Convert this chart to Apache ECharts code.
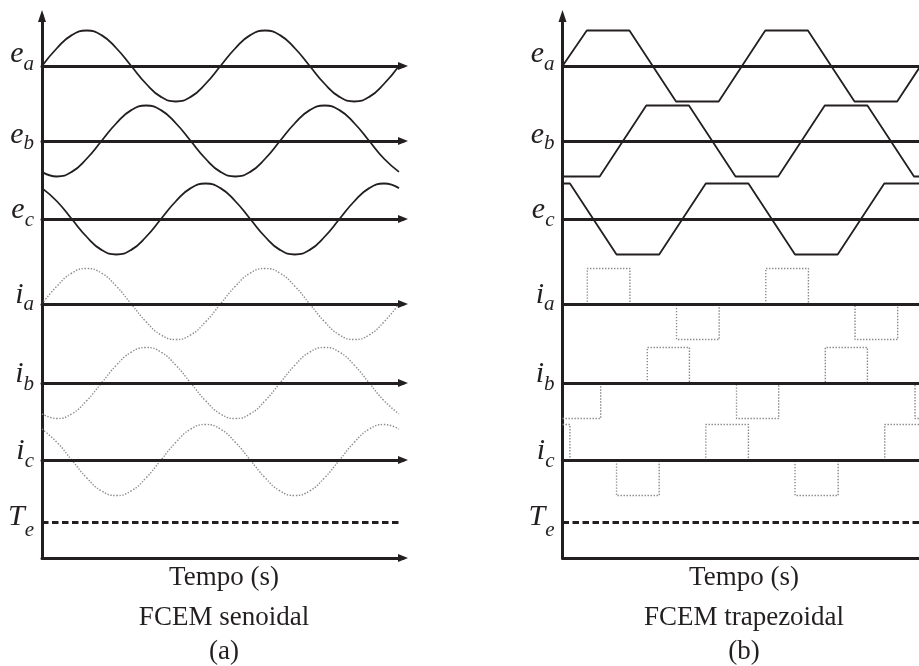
<!DOCTYPE html>
<html>
<head>
<meta charset="utf-8">
<script src="https://cdn.jsdelivr.net/npm/echarts@6/dist/echarts.min.js"></script>
<style>
  html, body { margin: 0; padding: 0; background: #ffffff; }
  #chart { width: 919px; height: 666px; }
</style>
</head>
<body>
<div id="chart"></div>
<script>
// ---- Sinusoidal back-EMF and phase currents, sampled every 30 electrical degrees ----
const sinAngles = [0, 30, 60, 90, 120, 150, 180, 210, 240, 270, 300, 330, 360,
                   390, 420, 450, 480, 510, 540, 570, 600, 630, 660, 690, 720];
const eaSin = [0, 0.5, 0.87, 1, 0.87, 0.5, 0, -0.5, -0.87, -1, -0.87, -0.5, 0,
               0.5, 0.87, 1, 0.87, 0.5, 0, -0.5, -0.87, -1, -0.87, -0.5, 0];
const ebSin = [-0.87, -1, -0.87, -0.5, 0, 0.5, 0.87, 1, 0.87, 0.5, 0, -0.5, -0.87,
               -1, -0.87, -0.5, 0, 0.5, 0.87, 1, 0.87, 0.5, 0, -0.5, -0.87];
const ecSin = [0.87, 0.5, 0, -0.5, -0.87, -1, -0.87, -0.5, 0, 0.5, 0.87, 1, 0.87,
               0.5, 0, -0.5, -0.87, -1, -0.87, -0.5, 0, 0.5, 0.87, 1, 0.87];
const iaSin = [0, 0.5, 0.87, 1, 0.87, 0.5, 0, -0.5, -0.87, -1, -0.87, -0.5, 0,
               0.5, 0.87, 1, 0.87, 0.5, 0, -0.5, -0.87, -1, -0.87, -0.5, 0];
const ibSin = [-0.87, -1, -0.87, -0.5, 0, 0.5, 0.87, 1, 0.87, 0.5, 0, -0.5, -0.87,
               -1, -0.87, -0.5, 0, 0.5, 0.87, 1, 0.87, 0.5, 0, -0.5, -0.87];
const icSin = [0.87, 0.5, 0, -0.5, -0.87, -1, -0.87, -0.5, 0, 0.5, 0.87, 1, 0.87,
               0.5, 0, -0.5, -0.87, -1, -0.87, -0.5, 0, 0.5, 0.87, 1, 0.87];

// ---- Trapezoidal back-EMF: corner points [angle, per-unit value] ----
const eaTrap = [[0, 0], [49, 1], [135, 1], [229, -1], [315, -1], [409, 1], [495, 1], [589, -1], [675, -1], [722, 0]];
const ebTrap = [[0, -1], [75, -1], [169, 1], [255, 1], [349, -1], [435, -1], [529, 1], [615, 1], [709, -1], [722, -1]];
const ecTrap = [[0, 1], [15, 1], [109, -1], [195, -1], [289, 1], [375, 1], [469, -1], [555, -1], [649, 1], [722, 1]];

// ---- Quasi-square phase currents: level switches [angle, new level] ----
const iaBlock = [[0, 0], [50, 1], [136, 0], [230, -1], [316, 0], [410, 1], [496, 0], [590, -1], [676, 0], [722, 0]];
const ibBlock = [[0, -1], [77, 0], [171, 1], [256, 0], [351, -1], [436, 0], [530, 1], [615, 0], [711, -1], [722, -1]];
const icBlock = [[0, 1], [15, 0], [109, -1], [195, 0], [289, 1], [375, 0], [469, -1], [556, 0], [650, 1], [722, 1]];

// ---- Electromagnetic torque (constant, per unit) ----
const teSin = [[0, 1], [720, 1]];
const teTrap = [[0, 1], [722, 1]];

// ---- Text ----
const rowSymbols = [['e', 'a'], ['e', 'b'], ['e', 'c'], ['i', 'a'], ['i', 'b'], ['i', 'c']];
const torqueSymbol = ['T', 'e'];
const timeAxisName = 'Tempo (s)';
const captions = [['FCEM senoidal', '(a)'], ['FCEM trapezoidal', '(b)']];

// ---- Layout & style ----
const ink = '#231f20';
const dotGray = '#8a8a8a';
const serif = '"Liberation Serif", "Times New Roman", serif';
const pxPerDeg = 0.4958;        // horizontal scale shared by both panels
const unitPx = 35.5;            // pixels per unit of amplitude
const frameTop = 16;
const timeAxisY = 558;
const rowBaselines = [66, 141, 219, 304, 383, 460];
// glyph baseline offsets (main letter, subscript) relative to each row axis
const labelOffsets = [[-2, 6], [4, 10], [1, 9], [1, 8], [1, 9], [1, 9]];
const torqueOffsets = [5, 15];
const mainSize = 30, subSize = 21;

// the right panel runs past the page edge, so its arrowheads are cut off
const panels = [
  { left: 42, width: 361, center: 224, kind: 'sin' },
  { left: 562.5, width: 385, center: 744, kind: 'trap' }
];

function pad(shift) {
  return shift < 0 ? [0, 0, -2 * shift, 0] : [2 * shift, 0, 0, 0];
}
function symbolName(sym, offs) {
  return {
    text: '{m|' + sym[0] + '}{s|' + sym[1] + '}',
    rich: {
      m: { fontFamily: serif, fontStyle: 'italic', fontSize: mainSize, color: ink,
           padding: pad(offs[0] - 0.3375 * mainSize) },
      s: { fontFamily: serif, fontStyle: 'italic', fontSize: subSize, color: ink,
           padding: pad(offs[1] - 0.3375 * subSize) }
    }
  };
}

const grids = [], xAxes = [], yAxes = [], series = [], graphics = [];
const hiddenAxisParts = {
  axisTick: { show: false }, axisLabel: { show: false }, splitLine: { show: false }
};

function addGrid(grid, xa, ya) {
  grids.push(Object.assign({ containLabel: false, outerBoundsMode: 'none' }, grid));
  const idx = grids.length - 1;
  const xMax = grid.width / pxPerDeg;
  xAxes.push(Object.assign({ gridIndex: idx, type: 'value', min: 0, max: xMax }, hiddenAxisParts, xa));
  yAxes.push(Object.assign({ gridIndex: idx, type: 'value' }, hiddenAxisParts, ya));
  return idx;
}

const sinSets = [eaSin, ebSin, ecSin, iaSin, ibSin, icSin];
const trapSets = [eaTrap, ebTrap, ecTrap, iaBlock, ibBlock, icBlock];
const arrowLine = {
  show: true, onZero: true, symbol: ['none', 'triangle'], symbolSize: [8, 10],
  lineStyle: { color: ink, width: 3 }
};

panels.forEach(function (p, pi) {
  // vertical axis
  addGrid(
    { left: p.left, top: frameTop, width: p.width, height: timeAxisY - frameTop },
    { axisLine: { show: false } },
    { min: 0, max: 1,
      axisLine: { show: true, symbol: ['none', 'triangle'], symbolSize: [8, 12],
                  lineStyle: { color: ink, width: 3 } } }
  );

  // one strip per phase quantity
  rowBaselines.forEach(function (y, ri) {
    const nm = symbolName(rowSymbols[ri], labelOffsets[ri]);
    const gi = addGrid(
      { left: p.left, top: y - 1.25 * unitPx, width: p.width, height: 2.5 * unitPx },
      { z: 5, axisLine: arrowLine },
      { min: -1.25, max: 1.25, axisLine: { show: false },
        name: nm.text, nameLocation: 'middle', nameRotate: 0, nameGap: 8,
        nameTextStyle: { rich: nm.rich } }
    );
    const isCurrent = ri >= 3;
    let data;
    if (p.kind === 'sin') {
      data = sinAngles.map(function (a, k) { return [a, sinSets[ri][k]]; });
    } else {
      data = trapSets[ri];
    }
    series.push({
      type: 'line', xAxisIndex: gi, yAxisIndex: gi, data: data,
      showSymbol: false, symbol: 'none', silent: true, z: 2,
      smooth: p.kind === 'sin',
      step: (p.kind === 'trap' && isCurrent) ? 'end' : false,
      lineStyle: isCurrent
        ? { color: dotGray, width: 1.4, type: [1.4, 1.6] }
        : { color: ink, width: 1.8 }
    });
  });

  // torque strip sitting on the time axis
  const tn = symbolName(torqueSymbol, torqueOffsets);
  const ti = addGrid(
    { left: p.left, top: timeAxisY - 2 * unitPx, width: p.width, height: 2 * unitPx },
    { z: 5, axisLine: arrowLine },
    { min: 0, max: 2, axisLine: { show: false },
      name: tn.text, nameLocation: 'middle', nameRotate: 0, nameGap: 8,
      nameTextStyle: { rich: tn.rich } }
  );
  series.push({
    type: 'line', xAxisIndex: ti, yAxisIndex: ti,
    data: p.kind === 'sin' ? teSin : teTrap,
    showSymbol: false, symbol: 'none', silent: true,
    lineStyle: { color: ink, width: 3, type: [6.5, 3.5] }
  });

  // axis title and captions under each panel
  [[timeAxisName, 578], [captions[pi][0], 618], [captions[pi][1], 652]].forEach(function (t) {
    graphics.push({
      type: 'text', x: p.center, y: t[1],
      style: { text: t[0], font: '27px ' + serif, fill: ink,
               textAlign: 'center', align: 'center', textVerticalAlign: 'middle', verticalAlign: 'middle' }
    });
  });
});

const chart = echarts.init(document.getElementById('chart'), null, { renderer: 'canvas' });
chart.setOption({
  animation: false,
  backgroundColor: '#ffffff',
  grid: grids,
  xAxis: xAxes,
  yAxis: yAxes,
  series: series,
  graphic: graphics
});
</script>
</body>
</html>
